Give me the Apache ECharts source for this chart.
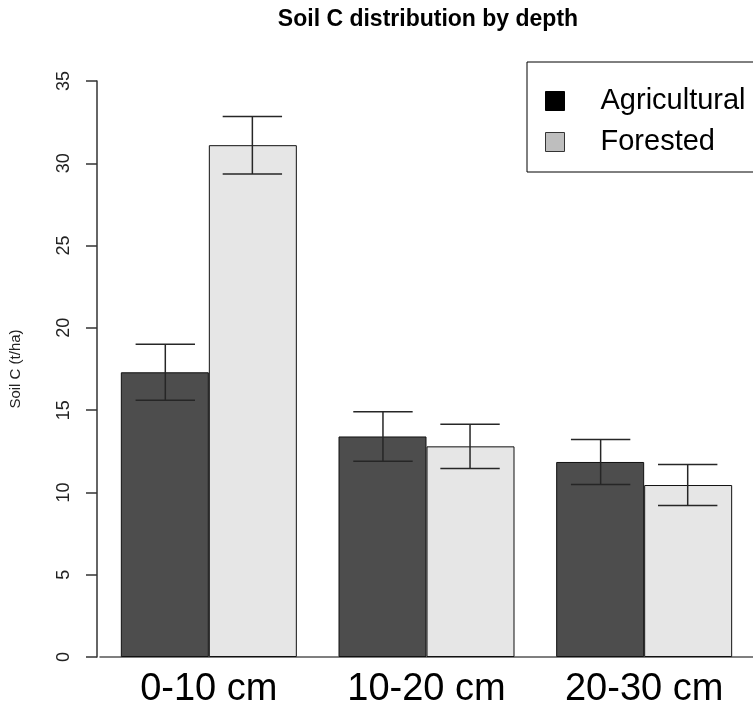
<!DOCTYPE html>
<html>
<head>
<meta charset="utf-8">
<script src="https://cdn.jsdelivr.net/npm/echarts@6/dist/echarts.min.js"></script>
<style>html,body{margin:0;padding:0;background:#fff}#c{width:753px;height:709px}</style>
</head>
<body>
<div id="c"></div>
<script>
const categories = ['0-10 cm', '10-20 cm', '20-30 cm'];
const agriValues = [17.3, 13.4, 11.85];
const agriErrors = [1.7, 1.5, 1.37];
const forValues = [31.1, 12.8, 10.45];
const forErrors = [1.75, 1.35, 1.25];
const yTicks = [0, 5, 10, 15, 20, 25, 30, 35];

const FONT = '"Liberation Sans", Arial, sans-serif';

function errData(vals, errs, side) {
  return vals.map((v, i) => [i, v - errs[i], v + errs[i], side]);
}

function renderErr(params, api) {
  const cat = api.value(0), lo = api.value(1), hi = api.value(2), side = api.value(3);
  const band = api.size([1, 0])[0];
  const pLo = api.coord([cat, lo]);
  const pHi = api.coord([cat, hi]);
  const x = pLo[0] + side * band * 0.2;
  const hw = band * 0.1364;
  const st = { stroke: '#262626', lineWidth: 1.5 };
  return {
    type: 'group',
    children: [
      { type: 'line', shape: { x1: x, y1: pLo[1], x2: x, y2: pHi[1] }, style: st },
      { type: 'line', shape: { x1: x - hw, y1: pHi[1], x2: x + hw, y2: pHi[1] }, style: st },
      { type: 'line', shape: { x1: x - hw, y1: pLo[1], x2: x + hw, y2: pLo[1] }, style: st }
    ]
  };
}

const chart = echarts.init(document.getElementById('c'), null, { renderer: 'canvas' });
chart.setOption({
  backgroundColor: '#fff',
  animation: false,
  title: {
    text: 'Soil C distribution by depth',
    left: 423, top: 3, textAlign: 'center',
    textStyle: { fontFamily: FONT, fontWeight: 'bold', fontSize: 23, color: '#000' }
  },
  legend: {
    orient: 'vertical',
    left: 527, top: 62,
    padding: [24, 30, 15, 18],
    itemGap: 11,
    itemWidth: 19, itemHeight: 19,
    borderColor: '#000', borderWidth: 1,
    backgroundColor: '#fff',
    icon: 'rect',
    textStyle: { fontFamily: FONT, fontSize: 29, color: '#000', lineHeight: 30, padding: [0, 0, 0, 31] },
    data: [
      { name: 'Agricultural', itemStyle: { color: '#000000', borderColor: '#000', borderWidth: 1 } },
      { name: 'Forested', itemStyle: { color: '#bebebe', borderColor: '#333', borderWidth: 1 } }
    ]
  },
  grid: { left: 100, top: 81, width: 660, height: 577 },
  xAxis: {
    type: 'category',
    data: categories,
    axisLine: { show: true, lineStyle: { color: '#555', width: 1.5 } },
    axisTick: { show: false },
    axisLabel: { fontFamily: FONT, fontSize: 38, color: '#000', margin: 14 },
    splitLine: { show: false }
  },
  yAxis: {
    type: 'value',
    min: 0, max: 35, interval: 5,
    offset: 3,
    name: 'Soil C (t/ha)',
    nameLocation: 'middle',
    nameGap: 74,
    nameRotate: 90,
    nameTextStyle: { fontFamily: FONT, fontSize: 15, color: '#222' },
    axisLine: { show: true, lineStyle: { color: '#333', width: 1.5 } },
    axisTick: { show: true, length: 11, lineStyle: { color: '#333', width: 1.5 } },
    axisLabel: {
      rotate: 90, fontFamily: FONT, fontSize: 18, color: '#222', margin: 24,
      formatter: v => (yTicks.includes(v) ? String(v) : '')
    },
    splitLine: { show: false }
  },
  series: [
    {
      name: 'Agricultural', type: 'bar', data: agriValues,
      barWidth: 88, barGap: '0%',
      itemStyle: { color: '#4d4d4d', borderColor: '#111', borderWidth: 1 }
    },
    {
      name: 'Forested', type: 'bar', data: forValues,
      barWidth: 88, barGap: '0%',
      itemStyle: { color: '#e6e6e6', borderColor: '#111', borderWidth: 1 }
    },
    {
      name: 'errAgri', type: 'custom', renderItem: renderErr, z: 5,
      encode: { x: 0, y: [1, 2] },
      data: errData(agriValues, agriErrors, -1)
    },
    {
      name: 'errFor', type: 'custom', renderItem: renderErr, z: 5,
      encode: { x: 0, y: [1, 2] },
      data: errData(forValues, forErrors, 1)
    }
  ]
});
</script>
</body>
</html>
